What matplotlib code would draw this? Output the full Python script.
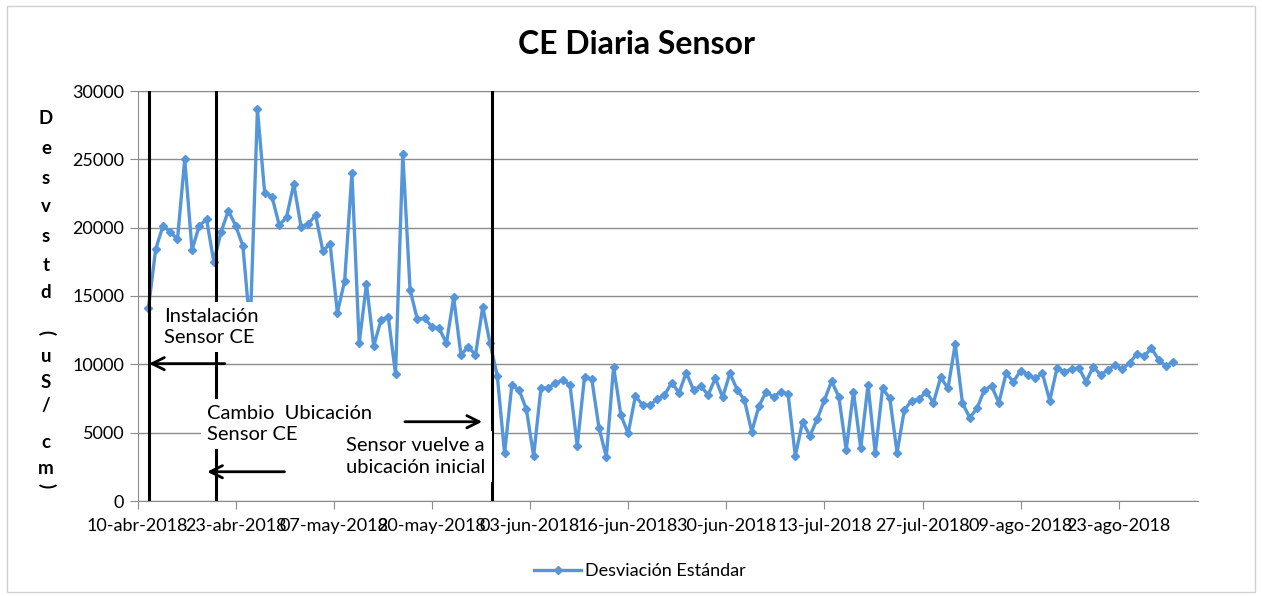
import numpy as np
import matplotlib.pyplot as plt
from matplotlib.patches import Rectangle
from matplotlib.lines import Line2D

plt.rcParams['font.family'] = ['Lato', 'DejaVu Sans']

# Desviacion estandar diaria (uS/cm), desde el 11-abr-2018
desv_std = [14100, 18420, 20120, 19700, 19150, 25020, 18370, 20150, 20600, 17500,
            19700, 21240, 20150, 18660, 12600, 28660, 22510, 22270, 20190, 20760,
            23200, 20070, 20270, 20930, 18310, 18800, 13780, 16100, 24020, 11540,
            15880, 11340, 13240, 13490, 9290, 25390, 15440, 13290, 13370, 12750,
            12640, 11540, 14900, 10680, 11290, 10680, 14220, 11540, 9150, 3490,
            8490, 8120, 6710, 3290, 8240, 8290, 8610, 8850, 8490, 4020,
            9100, 8900, 5320, 3240, 9830, 6290, 4950, 7680, 7020, 7020,
            7440, 7760, 8660, 7920, 9390, 8120, 8410, 7760, 8980, 7590,
            9340, 8150, 7390, 5070, 6950, 8000, 7590, 8000, 7830, 3290,
            5800, 4760, 5980, 7390, 8780, 7590, 3730, 8000, 3860, 8490,
            3490, 8240, 7510, 3540, 6660, 7340, 7440, 8000, 7190, 9050,
            8240, 11490, 7150, 6100, 6780, 8120, 8410, 7190, 9340, 8730,
            9540, 9220, 8980, 9340, 7340, 9710, 9460, 9640, 9750, 8730,
            9830, 9220, 9590, 9950, 9640, 10120, 10760, 10610, 11170, 10320,
            9880, 10190]

fechas = ['10-abr-2018', '23-abr-2018', '07-may-2018', '20-may-2018', '03-jun-2018',
          '16-jun-2018', '30-jun-2018', '13-jul-2018', '27-jul-2018', '09-ago-2018',
          '23-ago-2018']

dias = np.arange(len(desv_std)) + 1.5
ticks_x = np.arange(len(fechas)) * 13.5

azul = '#5596DA'
gris = '#8C8C8C'
W, H = 1262, 596

fig = plt.figure(figsize=(W / 100, H / 100), dpi=100)
ax = fig.add_axes([137.5 / W, 95 / H, (1198 - 137.5) / W, 410 / H])

ax.plot(dias, desv_std, color=azul, lw=2.4, marker='D', markersize=4.5, zorder=3)

ax.set_xlim(0, 145.9)
ax.set_ylim(0, 30000)
ax.set_yticks(np.arange(0, 30001, 5000))
ax.set_xticks(ticks_x)
ax.set_xticklabels(fechas)
ax.yaxis.grid(True, color=gris, lw=1)
ax.set_axisbelow(True)
ax.spines['right'].set_visible(False)
for s in ['left', 'bottom', 'top']:
    ax.spines[s].set_color(gris)
ax.tick_params(axis='both', colors=gris, labelcolor='black', labelsize=13, length=6)
ax.tick_params(axis='x', pad=6)

# eventos: lineas verticales
for xe in [1.6, 10.8, 48.8]:
    ax.axvline(xe, color='black', lw=2.2, zorder=3)

# textos
caja = dict(facecolor='white', edgecolor='none', boxstyle='square,pad=0.3')
ax.text(3.6, 12750, 'Instalación\nSensor CE', fontsize=14.5, va='center', ha='left',
        linespacing=1.3, bbox=caja, zorder=4)
ax.text(9.5, 5650, 'Cambio  Ubicación\nSensor CE', fontsize=14.5, va='center', ha='left',
        linespacing=1.3, bbox=caja, zorder=4)
ax.text(28.7, 3250, 'Sensor vuelve a\nubicación inicial', fontsize=14.5, va='center',
        ha='left', linespacing=1.3, bbox=caja, zorder=4)

flecha = dict(arrowstyle='->', lw=2, color='black', mutation_scale=22)
ax.annotate('', xy=(1.2, 10050), xytext=(12.4, 10050), arrowprops=flecha, zorder=5)
ax.annotate('', xy=(9.2, 2140), xytext=(20.6, 2140), arrowprops=flecha, zorder=5)
ax.annotate('', xy=(47.8, 5800), xytext=(36.4, 5800), arrowprops=flecha, zorder=5)

# titulo
fig.text(637 / W, 1 - 45 / H, 'CE Diaria Sensor', ha='center', va='center',
         fontsize=23, fontweight='bold')

# etiqueta vertical apilada
letras = ['D', 'e', 's', 'v', 's', 't', 'd', '(', 'u', 'S', '/', 'c', 'm', ')']
ys = [118, 148, 178, 207, 236, 265, 293, 333, 356, 382, 406, 442, 468, 486]
for ch, yy in zip(letras, ys):
    fig.text(46 / W, 1 - yy / H, ch, ha='center', va='center', fontsize=13.5,
             fontweight='bold', rotation=-90 if ch in '()' else 0)

# leyenda
h = Line2D([], [], color=azul, lw=2.4, marker='D', markersize=4.5)
fig.legend([h], ['Desviación Estándar'], loc='center', bbox_to_anchor=(640 / W, 1 - 571 / H),
           frameon=False, fontsize=13, handlelength=2.6, handletextpad=0.2)

# borde del grafico
fig.patches.append(Rectangle((7 / W, 4 / H), 1 - 14 / W, 1 - 10 / H, transform=fig.transFigure,
                             fill=False, ec='#D0D0D0', lw=1))

fig.savefig('out.png', dpi=100)
